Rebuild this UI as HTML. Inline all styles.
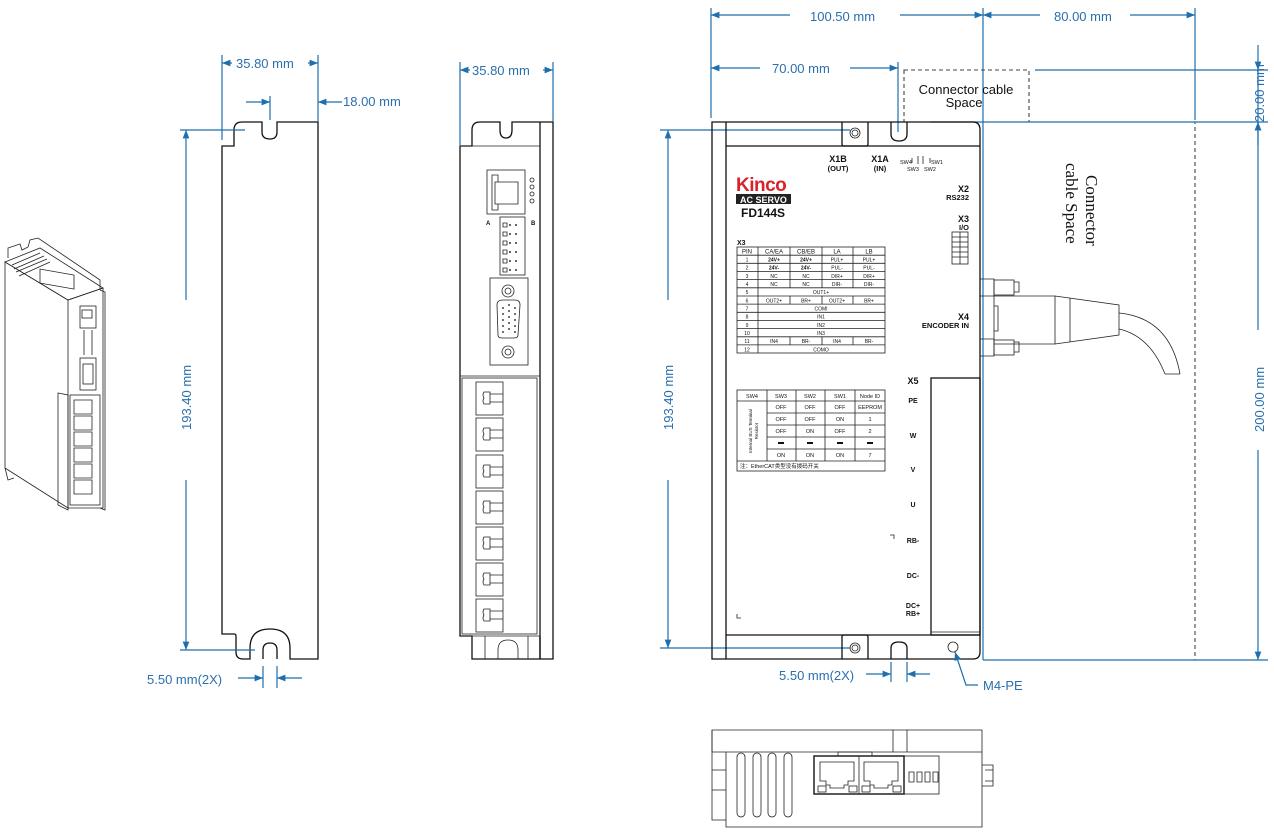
<!DOCTYPE html>
<html><head><meta charset="utf-8"><style>
html,body{margin:0;padding:0;background:#fff;}
svg{display:block;}
.d{stroke:#1f6fae;stroke-width:1.2;fill:none}
.dt{fill:#2a6fae;font-family:"Liberation Sans",sans-serif;font-size:13px}
.k{stroke:#111;stroke-width:1.3;fill:none}
.kt{stroke:#222;stroke-width:.8;fill:none}
.t{font-family:"Liberation Sans",sans-serif;fill:#111}
.serif{font-family:"Liberation Serif",serif;fill:#111}
.dash{stroke:#444;stroke-width:1.1;fill:none;stroke-dasharray:4 3}
</style></head><body>
<svg width="1274" height="832" viewBox="0 0 1274 832" xmlns="http://www.w3.org/2000/svg">
<defs>
<marker id="a" viewBox="0 0 10 10" refX="10" refY="5" markerWidth="9" markerHeight="7" orient="auto-start-reverse"><path d="M0,1 L10,5 L0,9 z" fill="#1f6fae"/></marker>
</defs>

<!-- ============ ISO VIEW ============ -->
<g class="kt" stroke-width="1">
<path d="M5,262 L5,468 L68,508 L68,300 Z" fill="#fff"/>
<path d="M5,262 L40,248 L103,288 L68,300 Z" fill="#fff"/>
<path d="M68,300 L103,288 L103,508 L68,508"/>
<path d="M8,258 L8,248 L20,244 L22,250 L28,247 L30,240 L38,238 L100,280 L100,290"/>
<path d="M12,265 L40,253 M14,269 L44,256 M16,272 L47,259 M19,276 L50,262"/>
<rect x="40" y="262" width="34" height="14" transform="skewY(10)" />
<rect x="80" y="306" width="16" height="22"/>
<rect x="82" y="310" width="10" height="8"/>
<path d="M84,330 L84,355 M92,330 L92,355"/>
<rect x="80" y="358" width="16" height="32"/>
<rect x="83" y="364" width="10" height="20"/>
<path d="M58,393 L68,395 L68,510 L58,505 Z"/>
<rect x="70" y="395" width="30" height="110"/>
<path d="M74,400 h18 v14 h-18z M74,416 h18 v14 h-18z M74,432 h18 v14 h-18z M74,448 h18 v14 h-18z M74,464 h18 v14 h-18z M74,480 h18 v14 h-18z"/>
<path d="M100,290 L105,292 L105,510 L100,508"/>
<path d="M5,468 L8,480 L14,478"/>
</g>

<!-- ============ SIDE VIEW ============ -->
<path class="k" d="M222,146 L234,146 L234,130 Q234,122 242,122 L262,122 L262,132 Q262,139 270,139 Q277,139 277,132 L277,122 L318,122 L318,659 L290,659 L290,648 Q290,629 270,629 Q250,629 250,648 L250,659 L243,659 Q236,659 236,652 L236,636 Q236,634 234,634 L222,634 Z"/>
<path class="k" d="M263,659 L263,650 Q263,643 270,643 Q277,643 277,650 L277,659"/>
<path class="d" d="M222,55 V140 M318,55 V122"/>
<path class="d" d="M232,63 H222" marker-end="url(#a)"/>
<path class="d" d="M308,63 H318" marker-end="url(#a)"/>
<text class="dt" x="236" y="68">35.80 mm</text>
<path class="d" d="M270,96 V120"/>
<path class="d" d="M246,102 H270" marker-end="url(#a)"/>
<path class="d" d="M342,102 H318" marker-end="url(#a)"/>
<text class="dt" x="343" y="106">18.00 mm</text>
<path class="d" d="M180,130 H245 M180,650 H255"/>
<path class="d" d="M186,300 V130" marker-end="url(#a)"/>
<path class="d" d="M186,480 V650" marker-end="url(#a)"/>
<text class="dt" transform="translate(191,430) rotate(-90)">193.40 mm</text>
<path class="d" d="M263,666 V688 M277,666 V688"/>
<path class="d" d="M238,678 H263" marker-end="url(#a)"/>
<path class="d" d="M302,678 H277" marker-end="url(#a)"/>
<text class="dt" x="147" y="684">5.50 mm(2X)</text>

<!-- ============ FRONT VIEW (middle) ============ -->
<path class="k" d="M460,146 L460,636 L472,636 L472,659 L540,659 L540,636"/>
<path class="k" d="M460,146 L472,146 L472,130 Q472,122 480,122 L500,122 L500,130 Q500,138 506,138 Q512,138 512,130 L512,122 L553,122 L553,659 L540,659"/>
<path class="k" d="M540,122 V659"/>
<path class="kt" d="M460,146 H540 M460,376 H540 M460,636 H540"/>
<path class="kt" d="M485,636 V659 M528,636 V659 M498,659 V650 Q498,640 508,640 Q518,640 518,650 V659"/>
<rect class="kt" x="487" y="170" width="38" height="44"/>
<path class="kt" d="M492,175 h6 v7 h-3 v22 h3 v6 h-6z M498,182 h20 v22 h-20"/>
<circle class="kt" cx="532" cy="180" r="2"/><circle class="kt" cx="532" cy="187" r="2"/><circle class="kt" cx="532" cy="194" r="2"/><circle class="kt" cx="532" cy="201" r="2"/>
<text class="t" x="486" y="225" font-size="6" font-weight="bold">A</text>
<text class="t" x="531" y="225" font-size="6" font-weight="bold">B</text>
<rect class="kt" x="500" y="217" width="25" height="58"/>
<g class="kt"><path d="M503,223h4v4h-4z M503,232h4v4h-4z M503,241h4v4h-4z M503,250h4v4h-4z M503,259h4v4h-4z M503,268h4v4h-4z"/></g>
<g fill="#333"><circle cx="510" cy="225" r="1"/><circle cx="516" cy="225" r="1"/><circle cx="510" cy="234" r="1"/><circle cx="516" cy="234" r="1"/><circle cx="510" cy="243" r="1"/><circle cx="516" cy="243" r="1"/><circle cx="510" cy="252" r="1"/><circle cx="516" cy="252" r="1"/><circle cx="510" cy="261" r="1"/><circle cx="516" cy="261" r="1"/><circle cx="510" cy="270" r="1"/><circle cx="516" cy="270" r="1"/></g>
<rect class="kt" x="490" y="278" width="38" height="87"/>
<circle class="kt" cx="508" cy="291" r="6"/><circle class="kt" cx="508" cy="291" r="3"/>
<circle class="kt" cx="508" cy="352" r="6"/><circle class="kt" cx="508" cy="352" r="3"/>
<path class="kt" d="M497,305 Q497,300 503,300 L515,300 Q520,300 520,305 L518,335 Q518,338 514,338 L502,338 Q498,338 498,335 Z"/>
<g fill="#444"><circle cx="503" cy="308" r="1"/><circle cx="503" cy="314" r="1"/><circle cx="503" cy="320" r="1"/><circle cx="503" cy="326" r="1"/><circle cx="503" cy="332" r="1"/><circle cx="509" cy="305" r="1"/><circle cx="509" cy="311" r="1"/><circle cx="509" cy="317" r="1"/><circle cx="509" cy="323" r="1"/><circle cx="509" cy="329" r="1"/><circle cx="515" cy="308" r="1"/><circle cx="515" cy="314" r="1"/><circle cx="515" cy="320" r="1"/><circle cx="515" cy="326" r="1"/><circle cx="515" cy="332" r="1"/></g>
<rect class="kt" x="462" y="378" width="75" height="256"/>
<g class="kt">
<rect x="476" y="382" width="27" height="33"/><rect x="476" y="418" width="27" height="33"/><rect x="476" y="455" width="27" height="33"/><rect x="476" y="491" width="27" height="33"/><rect x="476" y="527" width="27" height="33"/><rect x="476" y="563" width="27" height="33"/><rect x="476" y="599" width="27" height="33"/>
</g>
<g class="kt" stroke-width="1.1">
<path d="M484,392 h6 v12 h-6 q-2,-3 0,-6 q-2,-3 0,-6z M490,394 h13 M490,402 h13"/>
<path d="M484,428 h6 v12 h-6 q-2,-3 0,-6 q-2,-3 0,-6z M490,430 h13 M490,438 h13"/>
<path d="M484,465 h6 v12 h-6 q-2,-3 0,-6 q-2,-3 0,-6z M490,467 h13 M490,475 h13"/>
<path d="M484,501 h6 v12 h-6 q-2,-3 0,-6 q-2,-3 0,-6z M490,503 h13 M490,511 h13"/>
<path d="M484,537 h6 v12 h-6 q-2,-3 0,-6 q-2,-3 0,-6z M490,539 h13 M490,547 h13"/>
<path d="M484,573 h6 v12 h-6 q-2,-3 0,-6 q-2,-3 0,-6z M490,575 h13 M490,583 h13"/>
<path d="M484,609 h6 v12 h-6 q-2,-3 0,-6 q-2,-3 0,-6z M490,611 h13 M490,619 h13"/>
</g>
<path class="d" d="M460,62 V146 M553,62 V122"/>
<path class="d" d="M470,70 H460" marker-end="url(#a)"/>
<path class="d" d="M543,70 H553" marker-end="url(#a)"/>
<text class="dt" x="472" y="75">35.80 mm</text>

<!-- ============ MAIN VIEW ============ -->
<path class="d" d="M711,8 V118 M983,8 V660 M1195,8 V120"/>
<path class="d" d="M790,15 H711" marker-end="url(#a)"/>
<path class="d" d="M900,15 H983" marker-end="url(#a)"/>
<text class="dt" x="810" y="21">100.50 mm</text>
<path class="d" d="M1040,15 H983" marker-end="url(#a)"/>
<path class="d" d="M1130,15 H1195" marker-end="url(#a)"/>
<text class="dt" x="1054" y="21">80.00 mm</text>
<path class="d" d="M760,68 H711" marker-end="url(#a)"/>
<path class="d" d="M850,68 H898" marker-end="url(#a)"/>
<text class="dt" x="772" y="73">70.00 mm</text>
<path class="d" d="M898,62 V132"/>
<rect class="dash" x="904" y="70" width="125" height="52"/>
<text class="t" x="966" y="94" font-size="13" text-anchor="middle">Connector cable</text>
<text class="t" x="964" y="107" font-size="13" text-anchor="middle">Space</text>
<path class="dash" d="M983,122 H1195 V660 H983"/>
<text class="serif" font-size="17" transform="translate(1086,175) rotate(90)">Connector</text>
<text class="serif" font-size="17" transform="translate(1066,163) rotate(90)">cable Space</text>
<path class="d" d="M1035,70 H1268 M930,122 H1268 M983,660 H1268 M660,130 H850 M660,648 H850"/>
<path class="d" d="M1258,45 V70" marker-end="url(#a)"/>
<path class="d" d="M1258,145 V122" marker-end="url(#a)"/>
<path class="d" d="M1258,122 V70"/>
<text class="dt" transform="translate(1264,122) rotate(-90)">20.00 mm</text>
<path class="d" d="M1258,330 V122" marker-end="url(#a)"/>
<path class="d" d="M1258,450 V660" marker-end="url(#a)"/>
<text class="dt" transform="translate(1264,432) rotate(-90)">200.00 mm</text>
<path class="d" d="M668,300 V130" marker-end="url(#a)"/>
<path class="d" d="M668,480 V648" marker-end="url(#a)"/>
<text class="dt" transform="translate(673,430) rotate(-90)">193.40 mm</text>
<path class="k" d="M712,122 H973 Q980,122 980,130 V652 Q980,659 973,659 H712 Z"/>
<path class="k" d="M726,122 V659 M726,146 H980 M726,635 H980"/>
<path class="k" d="M842,122 V144 Q842,146 844,146 H866 Q868,146 868,144 V122" stroke-width="1"/>
<circle class="kt" cx="855" cy="133" r="5"/><circle class="kt" cx="855" cy="133" r="3"/>
<path class="k" d="M891,122 V134 Q891,141 899,141 Q907,141 907,134 V122" stroke-width="1"/>
<path class="k" d="M842,659 V637 Q842,635 844,635 H866 Q868,635 868,637 V659" stroke-width="1"/>
<circle class="kt" cx="855" cy="648" r="5"/><circle class="kt" cx="855" cy="648" r="3"/>
<path class="k" d="M891,659 V648 Q891,642 899,642 Q907,642 907,648 V659" stroke-width="1"/>
<circle class="kt" cx="953" cy="647" r="5"/>
<path class="d" d="M891,662 V682 M907,662 V682"/>
<path class="d" d="M866,674 H891" marker-end="url(#a)"/>
<path class="d" d="M930,674 H907" marker-end="url(#a)"/>
<text class="dt" x="779" y="680">5.50 mm(2X)</text>
<path class="d" d="M978,685 H966 L955,652" marker-end="url(#a)"/>
<text class="dt" x="983" y="690" font-family="Liberation Mono">M4-PE</text>
<g class="t" font-weight="bold" font-size="9">
<text x="838" y="162" text-anchor="middle">X1B</text>
<text x="838" y="171" text-anchor="middle" font-size="7.5">(OUT)</text>
<text x="880" y="162" text-anchor="middle">X1A</text>
<text x="880" y="171" text-anchor="middle" font-size="7.5">(IN)</text>
<text x="969" y="192" text-anchor="end">X2</text>
<text x="969" y="200" text-anchor="end" font-size="7.5">RS232</text>
<text x="969" y="222" text-anchor="end">X3</text>
<text x="969" y="230" text-anchor="end" font-size="7.5">I/O</text>
<text x="969" y="320" text-anchor="end">X4</text>
<text x="969" y="328" text-anchor="end" font-size="7.5">ENCODER IN</text>
<text x="913" y="384" text-anchor="middle">X5</text>
<g font-size="7">
<text x="913" y="403" text-anchor="middle">PE</text>
<text x="913" y="438" text-anchor="middle">W</text>
<text x="913" y="472" text-anchor="middle">V</text>
<text x="913" y="507" text-anchor="middle">U</text>
<text x="913" y="543" text-anchor="middle">RB-</text>
<text x="913" y="578" text-anchor="middle">DC-</text>
<text x="913" y="608" text-anchor="middle">DC+</text>
<text x="913" y="616" text-anchor="middle">RB+</text>
</g>
</g>
<g class="t" font-size="5.5">
<text x="900" y="164">SW4</text><text x="931" y="164">SW1</text>
<text x="907" y="171">SW3</text><text x="924" y="171">SW2</text>
</g>
<path class="kt" d="M912,158v5 M918,156v8 M923,156v8 M930,158v5"/>
<path class="kt" d="M890,535 h4 v4 M737,614 v4 h4"/>
<rect class="kt" x="952" y="232" width="16" height="32"/>
<path class="kt" d="M960,232v32 M952,237h16 M952,242h16 M952,247h16 M952,252h16 M952,257h16"/>
<text x="736" y="191" font-family="Liberation Sans" font-weight="bold" font-size="19" fill="#d8232a" letter-spacing="-0.5">Kinco</text>
<rect x="736" y="194" width="55" height="10" fill="#222"/>
<text x="740" y="203" font-family="Liberation Sans" font-weight="bold" font-size="9" fill="#fff">AC SERVO</text>
<text x="741" y="217" class="t" font-weight="bold" font-size="12">FD144S</text>
<text x="737" y="245" class="t" font-weight="bold" font-size="7">X3</text>
<g class="kt" stroke-width="0.8">
<rect x="737" y="247" width="148" height="106"/>
<path d="M737,255.2H885 M737,263.3H885 M737,271.5H885 M737,279.6H885 M737,287.8H885 M737,296H885 M737,304.1H885 M737,312.3H885 M737,320.4H885 M737,328.6H885 M737,336.8H885 M737,344.9H885"/>
<path d="M758,247V353 M790,247V287.8 M822,247V287.8 M853,247V287.8 M790,296V304.1 M822,296V304.1 M853,296V304.1 M790,336.8V344.9 M822,336.8V344.9 M853,336.8V344.9"/>
</g>
<g class="t" font-size="6" text-anchor="middle">
<text x="747" y="253.5">PIN</text><text x="774" y="253.5">CA/EA</text><text x="806" y="253.5">CB/EB</text><text x="837" y="253.5">LA</text><text x="869" y="253.5">LB</text>
<text x="747" y="261.5" font-size="5">1</text><text x="774" y="261.5" font-weight="bold" font-size="5">24V+</text><text x="806" y="261.5" font-weight="bold" font-size="5">24V+</text><text x="837" y="261.5" font-size="5">PUL+</text><text x="869" y="261.5" font-size="5">PUL+</text>
<text x="747" y="269.7" font-size="5">2</text><text x="774" y="269.7" font-weight="bold" font-size="5">24V-</text><text x="806" y="269.7" font-weight="bold" font-size="5">24V-</text><text x="837" y="269.7" font-size="5">PUL-</text><text x="869" y="269.7" font-size="5">PUL-</text>
<text x="747" y="277.8" font-size="5">3</text><text x="774" y="277.8" font-size="5">NC</text><text x="806" y="277.8" font-size="5">NC</text><text x="837" y="277.8" font-size="5">DIR+</text><text x="869" y="277.8" font-size="5">DIR+</text>
<text x="747" y="286" font-size="5">4</text><text x="774" y="286" font-size="5">NC</text><text x="806" y="286" font-size="5">NC</text><text x="837" y="286" font-size="5">DIR-</text><text x="869" y="286" font-size="5">DIR-</text>
<text x="747" y="294.2" font-size="5">5</text><text x="821" y="294.2" font-size="5">OUT1+</text>
<text x="747" y="302.3" font-size="5">6</text><text x="774" y="302.3" font-size="5">OUT2+</text><text x="806" y="302.3" font-size="5">BR+</text><text x="837" y="302.3" font-size="5">OUT2+</text><text x="869" y="302.3" font-size="5">BR+</text>
<text x="747" y="310.5" font-size="5">7</text><text x="821" y="310.5" font-size="5">COMI</text>
<text x="747" y="318.6" font-size="5">8</text><text x="821" y="318.6" font-size="5">IN1</text>
<text x="747" y="326.8" font-size="5">9</text><text x="821" y="326.8" font-size="5">IN2</text>
<text x="747" y="335" font-size="5">10</text><text x="821" y="335" font-size="5">IN3</text>
<text x="747" y="343.1" font-size="5">11</text><text x="774" y="343.1" font-size="5">IN4</text><text x="806" y="343.1" font-size="5">BR-</text><text x="837" y="343.1" font-size="5">IN4</text><text x="869" y="343.1" font-size="5">BR-</text>
<text x="747" y="351.3" font-size="5">12</text><text x="821" y="351.3" font-size="5">COMO</text>
</g>
<g class="kt" stroke-width="0.8">
<rect x="737" y="390" width="148" height="81"/>
<path d="M737,401H885 M767,413H885 M767,425H885 M767,437H885 M767,449H885 M737,461H885"/>
<path d="M767,390V461 M796,390V461 M825,390V461 M855,390V461"/>
</g>
<g class="t" font-size="5.5" text-anchor="middle">
<text x="752" y="398">SW4</text><text x="781" y="398">SW3</text><text x="810" y="398">SW2</text><text x="840" y="398">SW1</text><text x="870" y="398">Node ID</text>
<text x="781" y="409">OFF</text><text x="810" y="409">OFF</text><text x="840" y="409">OFF</text><text x="870" y="409">EEPROM</text>
<text x="781" y="421">OFF</text><text x="810" y="421">OFF</text><text x="840" y="421">ON</text><text x="870" y="421">1</text>
<text x="781" y="433">OFF</text><text x="810" y="433">ON</text><text x="840" y="433">OFF</text><text x="870" y="433">2</text>
<text x="781" y="457">ON</text><text x="810" y="457">ON</text><text x="840" y="457">ON</text><text x="870" y="457">7</text>
<text transform="translate(752,431) rotate(-90)" font-size="4.5">Internal BUS Terminal</text>
<text transform="translate(758,431) rotate(-90)" font-size="4.5">Resistor</text>
</g>
<g fill="#111"><rect x="778" y="442" width="6" height="2"/><rect x="807" y="442" width="6" height="2"/><rect x="837" y="442" width="6" height="2"/><rect x="867" y="442" width="6" height="2"/></g>
<text x="740" y="468" font-size="5.5" fill="#111" style="font-family:'Liberation Sans','Noto Sans CJK SC',sans-serif">注：EtherCAT类型没有拨码开关</text>
<rect class="k" x="931" y="378" width="49" height="257"/>
<path class="kt" d="M931,632 H980"/>
<g class="kt" stroke-width="1">
<path d="M980,279 H994 V296 H980 M980,339 H994 V356 H980"/>
<rect x="994" y="280" width="20" height="15"/><path d="M1014,282h5v10h-5"/>
<rect x="994" y="340" width="20" height="15"/><path d="M1014,342h5v10h-5"/>
<path d="M994,296 H1055 L1119,305 V335 L1055,344 H994 Z"/>
<path d="M994,306 H998 V331 H994"/>
<path d="M1055,296 V344 M1070,298 V342"/>
<path d="M1119,313 Q1170,318 1180,374 M1119,329 Q1150,336 1165,374 M1165,374 H1180"/>
</g>

<!-- ============ BOTTOM VIEW ============ -->
<g class="kt" stroke-width="1">
<path d="M712,730 H982 V827 H726 V752 H712 Z" fill="none"/>
<path d="M712,730 V820 H726 M726,752 H982 M893,730 V752 M907,730 V752 M712,770 H726 M712,790 H726"/>
<rect x="838" y="752" width="34" height="4"/>
<rect x="737" y="753" width="8" height="64" rx="4"/><rect x="753" y="753" width="8" height="64" rx="4"/><rect x="768" y="753" width="8" height="64" rx="4"/><rect x="784" y="753" width="8" height="64" rx="4"/>
<rect x="814" y="756" width="90" height="38" stroke-width="1.5"/>
<path d="M859,756 V794"/>
<path d="M820,762 h34 v19 h-6 v4 h-4 v3 h-14 v-3 h-4 v-4 h-6z M864,762 h34 v19 h-6 v4 h-4 v3 h-14 v-3 h-4 v-4 h-6z"/>
<rect x="818" y="786" width="8" height="6"/><rect x="849" y="786" width="8" height="6"/><rect x="862" y="786" width="8" height="6"/><rect x="893" y="786" width="8" height="6"/>
<rect x="904" y="756" width="35" height="38"/>
<path d="M909,772h5v10h-5z M917,772h5v10h-5z M925,772h5v10h-5z M933,772h5v10h-5z"/>
<path d="M982,765 H993 V786 H982 M985,770 H993 M985,781 H993"/>
</g>
</svg>
</body></html>
